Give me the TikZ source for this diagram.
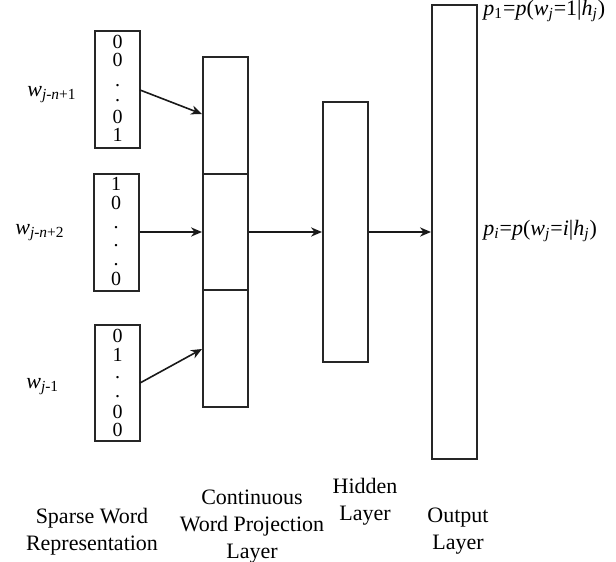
\documentclass[tikz,border=0pt]{standalone}
\usepackage{fontspec}
\setmainfont{Liberation Serif}
\usetikzlibrary{arrows.meta}

\tikzset{
  layerbox/.style={draw=black!85, line width=1pt},
  link/.style={draw=black!90, line width=0.8pt, -{Stealth[length=5.5pt,width=4.6pt]}},
  entry/.style={inner sep=0pt, anchor=base, font=\fontsize{10}{12}\selectfont},
  wlabel/.style={inner sep=0pt, anchor=base west, font=\fontsize{11}{13}\selectfont},
  caption/.style={inner sep=0pt, align=center, anchor=north, font=\fontsize{11}{13.5}\selectfont},
}
\newcommand{\sub}[1]{\textsubscript{#1}}

\begin{document}
\begin{tikzpicture}[x=0.5pt, y=-0.5pt]
  \useasboundingbox (0,0) rectangle (616,562);

  % sparse one-hot input vectors
  \node[layerbox, minimum width=22.5pt, minimum height=58.5pt, inner sep=0pt] (v1) at (117.5,89.5) {};
  \node[layerbox, minimum width=22.5pt, minimum height=58.5pt, inner sep=0pt] (v2) at (116,232) {};
  \node[layerbox, minimum width=22.5pt, minimum height=58.25pt, inner sep=0pt] (v3) at (117.5,382.75) {};

  \foreach \t/\y [count=\k] in {0/48, 0/66.5, ./86.5, ./101.5, 0/123.5, 1/141.5}
    \node[entry] (va-\k) at (117.5,\y) {\t};
  \foreach \t/\y [count=\k] in {1/190.5, 0/209, ./228, ./246.5, ./265.5, 0/285}
    \node[entry] (vb-\k) at (116,\y) {\t};
  \foreach \t/\y [count=\k] in {0/342, 1/361.5, ./378, ./397, 0/418, 0/436.5}
    \node[entry] (vc-\k) at (117.5,\y) {\t};

  % word labels
  \node[wlabel] (w1) at (27,96) {\textit{w}\sub{\textit{j}-\textit{n}+1}};
  \node[wlabel] (w2) at (15,234) {\textit{w}\sub{\textit{j}-\textit{n}+2}};
  \node[wlabel] (w3) at (26,388) {\textit{w}\sub{\textit{j}-1}};

  % continuous projection layer (three stacked blocks)
  \node[layerbox, minimum width=22.5pt, minimum height=58.25pt, inner sep=0pt] (p1) at (225.5,115.25) {};
  \node[layerbox, minimum width=22.5pt, minimum height=58.25pt, inner sep=0pt] (p2) at (225.5,231.75) {};
  \node[layerbox, minimum width=22.5pt, minimum height=58.5pt, inner sep=0pt] (p3) at (225.5,348.5) {};

  % hidden and output layers
  \node[layerbox, minimum width=22.5pt, minimum height=130pt, inner sep=0pt] (h) at (345.5,232) {};
  \node[layerbox, minimum width=22.5pt, minimum height=227.25pt, inner sep=0pt] (o) at (454.5,231.75) {};

  % connections
  \coordinate (a1) at (140,90);
  \coordinate (a3) at (140,383);
  \draw[link] (a1) -- (p1.west |- 0,114);
  \draw[link] (v2.east) -- (p2.west |- v2.east);
  \draw[link] (a3) -- (p3.west |- 0,349);
  \draw[link] (p2.east |- 0,232) -- (h.west |- 0,232);
  \draw[link] (h.east |- 0,232) -- (o.west |- 0,232);

  % output probabilities
  \node[wlabel] (q1) at (483,15.5) {\textit{p}\sub{1}=\textit{p}(\textit{w}\sub{\textit{j}}=1|\textit{h}\sub{\textit{j}})};
  \node[wlabel] (qi) at (483,235) {\textit{p}\sub{\textit{i}}=\textit{p}(\textit{w}\sub{\textit{j}}=\textit{i}|\textit{h}\sub{\textit{j}})};

  % layer captions
  \node[caption] (c1) at (92,508) {Sparse Word\\Representation};
  \node[caption] (c2) at (252,490) {Continuous\\Word Projection\\Layer};
  \node[caption] (c3) at (365,478) {Hidden\\Layer};
  \node[caption] (c4) at (458,508) {Output\\Layer};
\end{tikzpicture}
\end{document}
